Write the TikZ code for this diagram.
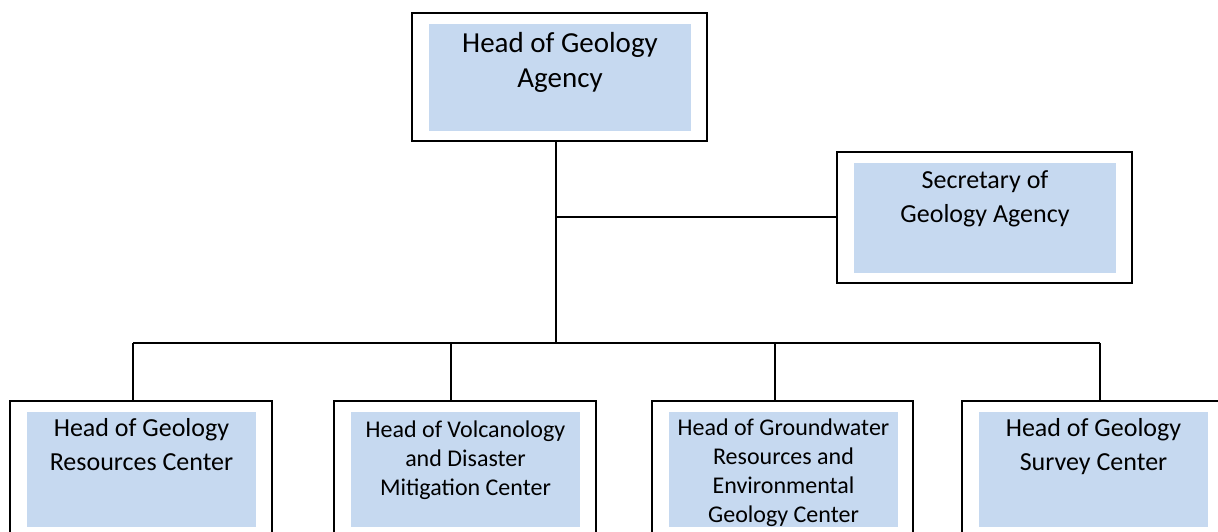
\documentclass[tikz,border=0pt]{standalone}
\usepackage{fontspec}
\setmainfont{Carlito}
\definecolor{panelblue}{HTML}{C6D9F0}
\tikzset{
  panel/.style={fill=panelblue, draw=none, inner sep=0pt},
  label/.style={align=center, inner sep=0pt, anchor=base, text=black},
  bigtext/.style={label, font={\fontsize{21.75}{26.25}\selectfont}},
  midtext/.style={label, font={\fontsize{19.5}{25}\selectfont}},
  smalltext/.style={label, font={\fontsize{18}{21.6}\selectfont}},
  link/.style={draw=black, line width=1.3pt}
}
\begin{document}
\begin{tikzpicture}[x=0.75pt, y=-0.75pt]
\useasboundingbox (0,0) rectangle (1218,532);
\clip (0,0) rectangle (1218,532);
\fill[white] (0,0) rectangle (1218,532);

% junction points of the connector tree
\coordinate (trunk) at (556,141);
\coordinate (secjoin) at (556,217);
\coordinate (bus) at (556,343);
\coordinate (bus1) at (133,343);
\coordinate (bus2) at (451,343);
\coordinate (bus3) at (775,343);
\coordinate (bus4) at (1100,343);

% connectors
\draw[link] (trunk) -- (bus);
\draw[link] (secjoin) -- (837,217) coordinate (secin);
\draw[link] (bus1) -- (bus4);
\draw[link] (bus1) -- (133,401) coordinate (top1);
\draw[link] (bus2) -- (451,401) coordinate (top2);
\draw[link] (bus3) -- (775,401) coordinate (top3);
\draw[link] (bus4) -- (1100,401) coordinate (top4);

% head of agency (text anchored at the baseline of its last line)
\draw[link] (412,13) rectangle (707,141);
\node[panel, minimum width=196.5pt, minimum height=80.25pt] (headfill) at (560,77.5) {};
\node[bigtext] (head) at (560,87) {Head of Geology\\Agency};

% secretary
\draw[link] (837,152) rectangle (1132,283);
\node[panel, minimum width=196.5pt, minimum height=82.5pt] (secfill) at (985,218) {};
\node[midtext] (sec) at (985,222) {Secretary of\\Geology Agency};

% centres
\draw[link] (10,401) rectangle (272,545);
\node[panel, minimum width=171.75pt, minimum height=86.25pt] (fill1) at (141.5,469.5) {};
\node[midtext] (c1) at (141.5,470) {Head of Geology\\Resources Center};

\draw[link] (334,401) rectangle (596,545);
\node[panel, minimum width=171.75pt, minimum height=86.25pt] (fill2) at (465.5,469.5) {};
\node[smalltext] (c2) at (465.5,495) {Head of Volcanology\\and Disaster\\Mitigation Center};

\draw[link] (652,401) rectangle (913,545);
\node[panel, minimum width=171.75pt, minimum height=86.25pt] (fill3) at (783.5,469.5) {};
\node[smalltext] (c3) at (783.5,522) {Head of Groundwater\\Resources and\\Environmental\\Geology Center};

\draw[link] (962,401) rectangle (1224,545);
\node[panel, minimum width=171.75pt, minimum height=86.25pt] (fill4) at (1093.5,469.5) {};
\node[midtext] (c4) at (1093.5,470) {Head of Geology\\Survey Center};
\end{tikzpicture}
\end{document}
